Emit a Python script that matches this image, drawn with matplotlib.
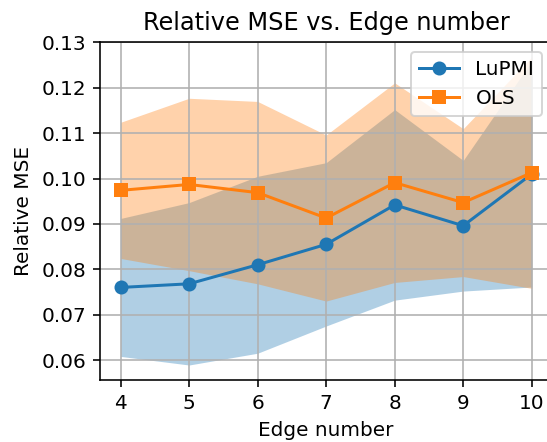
import matplotlib
matplotlib.use('Agg')
import matplotlib.pyplot as plt
import numpy as np

edges = [4, 5, 6, 7, 8, 9, 10]

lupmi_mean = [0.0760, 0.0768, 0.0810, 0.0855, 0.0942, 0.0896, 0.1010]
lupmi_std = [0.0152, 0.0179, 0.0195, 0.0180, 0.0210, 0.0144, 0.0249]

ols_mean = [0.0974, 0.0987, 0.0969, 0.0913, 0.0991, 0.0947, 0.1013]
ols_std = [0.0150, 0.0190, 0.0201, 0.0183, 0.0220, 0.0163, 0.0255]

dpi = 144
fig = plt.figure(figsize=(547 / dpi, 442 / dpi), dpi=dpi)
ax = fig.add_axes([0.1828, 0.1403, 0.8269, 0.7636])

for mean, std, marker, label in [(lupmi_mean, lupmi_std, 'o', 'LuPMI'),
                                 (ols_mean, ols_std, 's', 'OLS')]:
    mean = np.array(mean)
    std = np.array(std)
    line, = ax.plot(edges, mean, marker=marker, label=label)
    ax.fill_between(edges, mean - std, mean + std, color=line.get_color(), alpha=0.35, linewidth=0)

ax.set_ylim(0.0556, 0.13)
ax.set_title('Relative MSE vs. Edge number')
ax.set_xlabel('Edge number')
ax.set_ylabel('Relative MSE')
ax.grid(True)
ax.legend(loc='upper right')

fig.savefig('out.png', dpi=dpi)
plt.close(fig)
